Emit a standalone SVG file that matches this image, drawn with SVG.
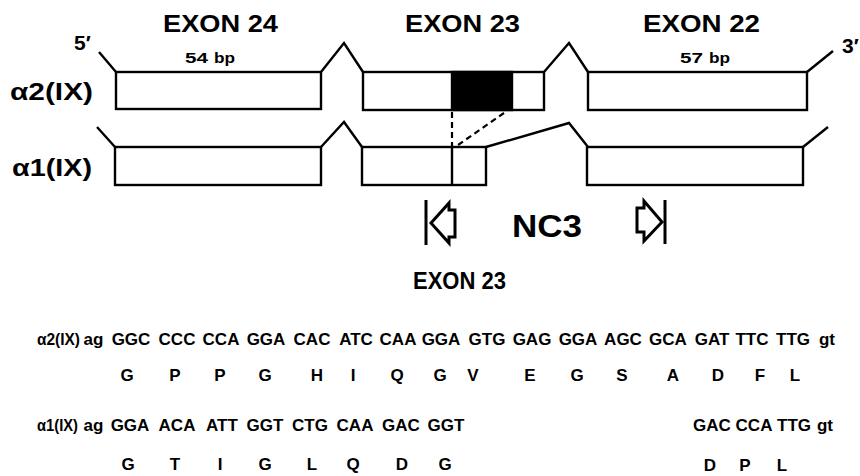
<svg xmlns="http://www.w3.org/2000/svg" width="860" height="476" viewBox="0 0 860 476">
<style>
text{font-family:"Liberation Sans",Arial,sans-serif;font-weight:bold;fill:#000}
.ln{fill:none;stroke:#000;stroke-width:2.4;stroke-linejoin:miter}
.box{fill:#fff;stroke:#000;stroke-width:2.4}
.dash{fill:none;stroke:#000;stroke-width:2.2;stroke-dasharray:6,4}
.sym{fill:none;stroke:#000;stroke-width:3;stroke-linejoin:miter}
.h{font-size:24px}
.lab{font-size:24px}
.bp{font-size:14px}
.seq{font-size:17px;text-anchor:middle}
.aa{font-size:17px;text-anchor:middle}
</style>
<rect width="860" height="476" fill="#fff"/>
<g id="headers">
<text class="h" x="163" y="32" textLength="115" lengthAdjust="spacingAndGlyphs">EXON 24</text>
<text class="h" x="405" y="32" textLength="115" lengthAdjust="spacingAndGlyphs">EXON 23</text>
<text class="h" x="643" y="32" textLength="117" lengthAdjust="spacingAndGlyphs">EXON 22</text>
<text style="font-size:21px" x="74" y="50">5′</text>
<text style="font-size:21px" x="842" y="53">3′</text>
<text class="bp" x="185" y="63" textLength="23" lengthAdjust="spacingAndGlyphs">54</text>
<text class="bp" x="214" y="63" textLength="21" lengthAdjust="spacingAndGlyphs">bp</text>
<text class="bp" x="680" y="63" textLength="23" lengthAdjust="spacingAndGlyphs">57</text>
<text class="bp" x="709" y="63" textLength="21" lengthAdjust="spacingAndGlyphs">bp</text>
<text class="lab" x="10" y="100" textLength="83" lengthAdjust="spacingAndGlyphs">α2(IX)</text>
<text class="lab" x="12" y="176" textLength="80" lengthAdjust="spacingAndGlyphs">α1(IX)</text>
</g>
<g id="connectors">
<polyline class="ln" points="99,52 116,72"/>
<polyline class="ln" points="321,72 344,43 363,72"/>
<polyline class="ln" points="544,72 569,43 588,72"/>
<polyline class="ln" points="807,72 833,51"/>
<polyline class="ln" points="97,127 115,147"/>
<polyline class="ln" points="321,147 344,122 362,147"/>
<polyline class="ln" points="486,147 569,123 588,147"/>
<polyline class="ln" points="803,147 828,127"/>
<line class="dash" x1="452" y1="112" x2="452" y2="147"/>
<line class="dash" x1="504" y1="113" x2="458" y2="145"/>
</g>
<g id="a2-exon24"><rect class="box" x="116" y="72" width="205" height="37"/></g>
<g id="a2-exon23"><rect class="box" x="363" y="72" width="181" height="38"/><rect x="452" y="72" width="60" height="38" fill="#000" stroke="#000" stroke-width="2.4"/></g>
<g id="a2-exon22"><rect class="box" x="588" y="72" width="219" height="38"/></g>
<g id="a1-exon24"><rect class="box" x="115" y="147" width="206" height="38"/></g>
<g id="a1-exon23"><rect class="box" x="362" y="147" width="124" height="38"/><line class="ln" x1="452" y1="147" x2="452" y2="185"/></g>
<g id="a1-exon22"><rect class="box" x="587" y="147" width="216" height="38"/></g>
<g id="nc3">
<line class="sym" x1="426" y1="200" x2="426" y2="245"/>
<polygon class="sym" points="431,223 449,203 449,210 455,210 455,237 449,237 449,243"/>
<text x="512" y="237" style="font-size:31px" textLength="70" lengthAdjust="spacingAndGlyphs">NC3</text>
<polygon class="sym" points="662,222 644,201 644,208 637,208 637,232 644,232 644,241"/>
<line class="sym" x1="665" y1="200" x2="665" y2="244"/>
</g>
<g id="seq-title"><text x="413" y="289" style="font-size:24px" textLength="93" lengthAdjust="spacingAndGlyphs">EXON 23</text></g>
<g id="seq-a2">
<text x="37" y="345" style="font-size:17px" textLength="43" lengthAdjust="spacingAndGlyphs">α2(IX)</text>
<text class="seq" x="93.5" y="345">ag</text>
<text class="seq" x="131" y="345">GGC</text>
<text class="seq" x="177" y="345">CCC</text>
<text class="seq" x="221" y="345">CCA</text>
<text class="seq" x="266" y="345">GGA</text>
<text class="seq" x="312" y="345">CAC</text>
<text class="seq" x="356" y="345">ATC</text>
<text class="seq" x="398" y="345">CAA</text>
<text class="seq" x="441" y="345">GGA</text>
<text class="seq" x="487" y="345">GTG</text>
<text class="seq" x="532" y="345">GAG</text>
<text class="seq" x="578" y="345">GGA</text>
<text class="seq" x="623" y="345">AGC</text>
<text class="seq" x="668" y="345">GCA</text>
<text class="seq" x="712" y="345">GAT</text>
<text class="seq" x="752" y="345">TTC</text>
<text class="seq" x="793" y="345">TTG</text>
<text class="seq" x="827" y="345">gt</text>
<text class="aa" x="127" y="381">G</text>
<text class="aa" x="175" y="381">P</text>
<text class="aa" x="220" y="381">P</text>
<text class="aa" x="265" y="381">G</text>
<text class="aa" x="317" y="381">H</text>
<text class="aa" x="353" y="381">I</text>
<text class="aa" x="397" y="381">Q</text>
<text class="aa" x="440" y="381">G</text>
<text class="aa" x="473" y="381">V</text>
<text class="aa" x="530" y="381">E</text>
<text class="aa" x="577" y="381">G</text>
<text class="aa" x="622" y="381">S</text>
<text class="aa" x="673" y="381">A</text>
<text class="aa" x="718" y="381">D</text>
<text class="aa" x="760" y="381">F</text>
<text class="aa" x="795" y="381">L</text>
</g>
<g id="seq-a1">
<text x="37" y="431" style="font-size:17px" textLength="41" lengthAdjust="spacingAndGlyphs">α1(IX)</text>
<text class="seq" x="93.5" y="431">ag</text>
<text class="seq" x="130" y="431">GGA</text>
<text class="seq" x="177" y="431">ACA</text>
<text class="seq" x="222" y="431">ATT</text>
<text class="seq" x="265" y="431">GGT</text>
<text class="seq" x="310" y="431">CTG</text>
<text class="seq" x="355" y="431">CAA</text>
<text class="seq" x="401" y="431">GAC</text>
<text class="seq" x="446" y="431">GGT</text>
<text class="seq" x="712" y="431">GAC</text>
<text class="seq" x="754" y="431">CCA</text>
<text class="seq" x="794" y="431">TTG</text>
<text class="seq" x="825" y="431">gt</text>
<text class="aa" x="128" y="470">G</text>
<text class="aa" x="175" y="470">T</text>
<text class="aa" x="220" y="470">I</text>
<text class="aa" x="265" y="470">G</text>
<text class="aa" x="312" y="470">L</text>
<text class="aa" x="353" y="470">Q</text>
<text class="aa" x="402" y="470">D</text>
<text class="aa" x="445" y="470">G</text>
<text class="aa" x="710" y="471">D</text>
<text class="aa" x="745" y="471">P</text>
<text class="aa" x="782" y="471">L</text>
</g>
</svg>
